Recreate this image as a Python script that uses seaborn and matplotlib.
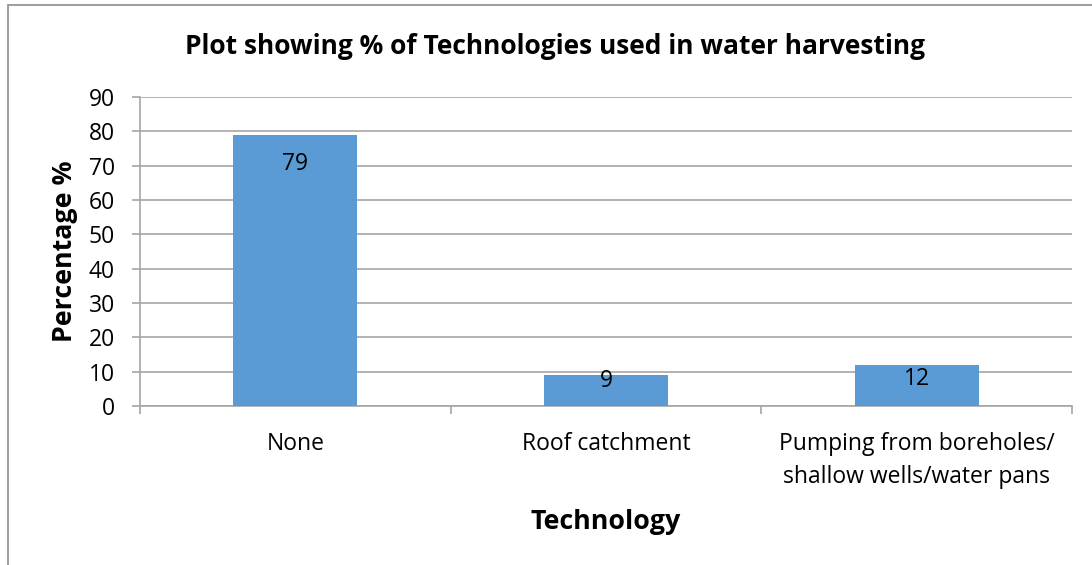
import matplotlib
matplotlib.use("Agg")
import matplotlib.pyplot as plt
import seaborn as sns
import pandas as pd
from matplotlib.patches import Rectangle

# Data
categories = ["None", "Roof catchment", "Pumping from boreholes/\nshallow wells/water pans"]
percentages = [79, 9, 12]
y_ticks = [0, 10, 20, 30, 40, 50, 60, 70, 80, 90]

sns.set_theme(style="white")
plt.rcParams["font.family"] = ["Open Sans", "DejaVu Sans"]

BAR_COLOR = "#5B9BD5"
GRID_COLOR = "#A6A6A6"
DPI = 100

df = pd.DataFrame({"Technology": categories, "Percentage": percentages})

fig = plt.figure(figsize=(1092 / DPI, 565 / DPI), dpi=DPI)
ax = fig.add_axes([140 / 1092, 1 - 406 / 565, (1072 - 140) / 1092, (406 - 97) / 565])

sns.barplot(data=df, x="Technology", y="Percentage", color=BAR_COLOR,
            saturation=1, width=0.4, linewidth=0, ax=ax, zorder=3)

ax.set_ylim(0, 90)
ax.set_xlim(-0.5, len(categories) - 0.5)
ax.set_yticks(y_ticks)
ax.yaxis.grid(True, color=GRID_COLOR, linewidth=1.2, zorder=0)
ax.set_axisbelow(True)

for side in ["top", "right"]:
    ax.spines[side].set_visible(False)
for side in ["left", "bottom"]:
    ax.spines[side].set_color(GRID_COLOR)
    ax.spines[side].set_linewidth(1.2)

# y ticks outward on the left; x ticks at category boundaries
ax.tick_params(axis="y", which="major", left=True, length=6, width=1.2,
               color=GRID_COLOR, pad=12, labelsize=16.5, labelcolor="black")
ax.set_xticks(range(len(categories)))
ax.set_xticklabels(categories, fontsize=16.5, color="black", linespacing=1.5)
ax.tick_params(axis="x", which="major", bottom=False, pad=13)
ax.set_xticks([-0.5 + i for i in range(len(categories) + 1)], minor=True)
ax.tick_params(axis="x", which="minor", bottom=True, length=6, width=1.2,
               color=GRID_COLOR)

# value labels just inside the bar tops
label_offsets = [-21, -4, -10]
for i, (v, off) in enumerate(zip(percentages, label_offsets)):
    ax.annotate(str(v), xy=(i, v), xytext=(0, off), textcoords="offset points",
                ha="center", va="center", fontsize=16.5, color="black", zorder=5)

ax.set_xlabel("Technology", fontsize=19.3, fontweight="bold", labelpad=14,
              color="black")
ax.set_ylabel("Percentage %", fontsize=19.3, fontweight="bold", labelpad=8,
              color="black")

fig.text(555 / 1092, 1 - 46 / 565, "Plot showing % of Technologies used in water harvesting",
         ha="center", va="center", fontsize=19, fontweight="bold", color="black")

# chart frame
fig.patches.append(Rectangle((7.5 / 1092, -0.1), 1.2, 1 - 4.5 / 565 + 0.1,
                             transform=fig.transFigure, fill=False,
                             edgecolor="#8C8C8C", linewidth=1.2))

fig.savefig("out.png", dpi=DPI, facecolor="white")
